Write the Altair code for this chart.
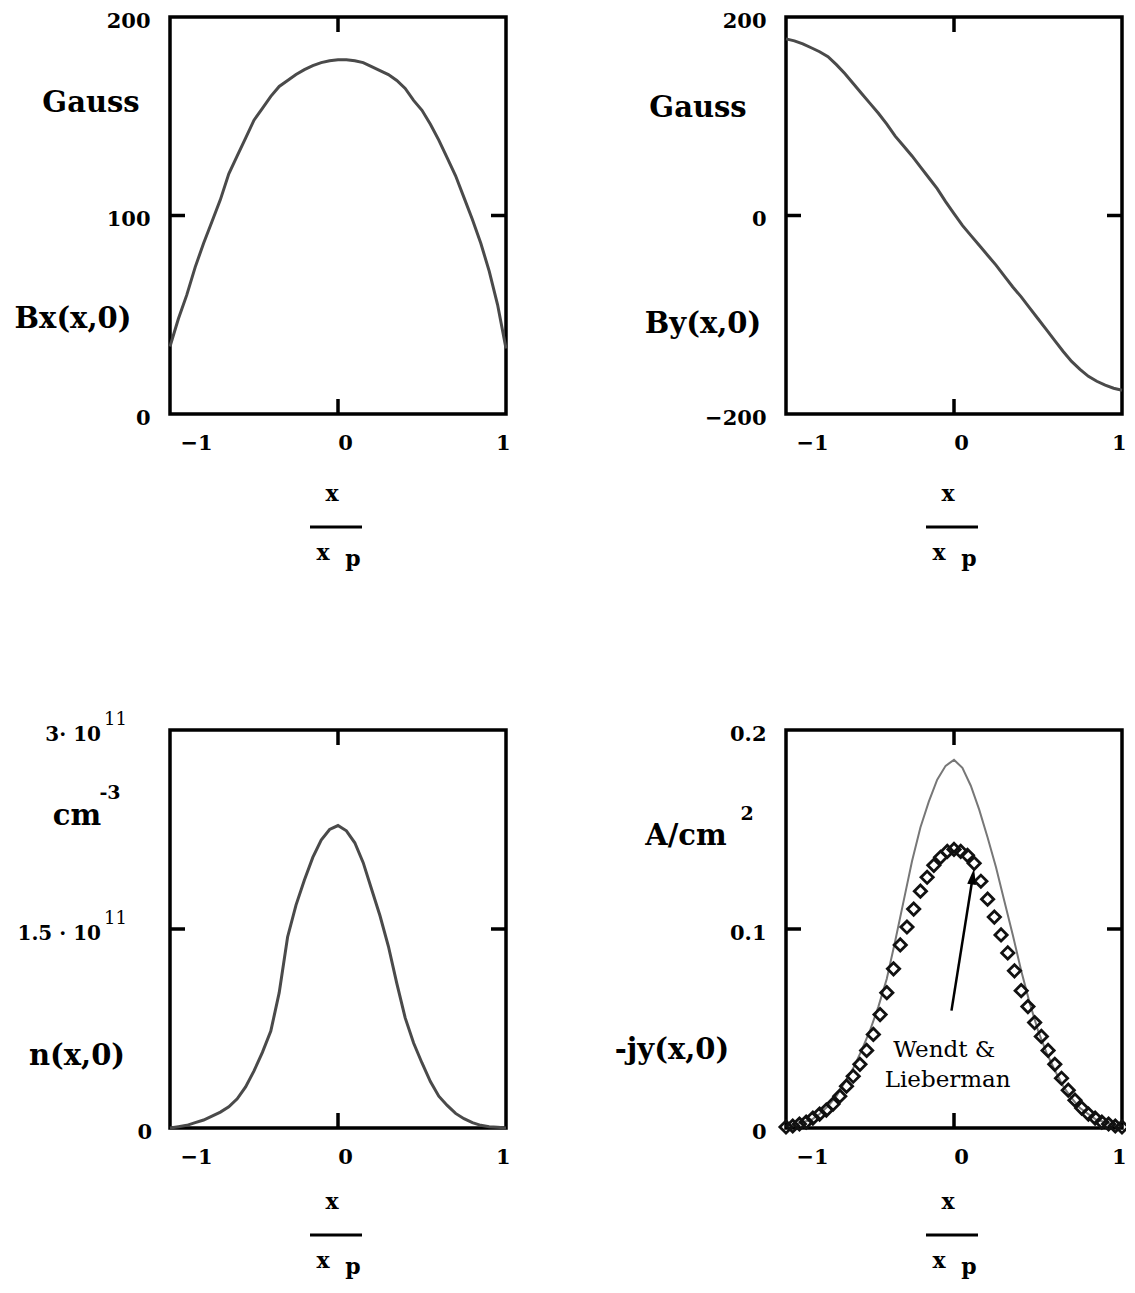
import altair as alt
import pandas as pd

# ---------------- data ----------------
x_grid = [-1.0, -0.95, -0.9, -0.85, -0.8, -0.75, -0.7, -0.65, -0.6, -0.55, -0.5,
          -0.45, -0.4, -0.35, -0.3, -0.25, -0.2, -0.15, -0.1, -0.05, 0.0,
          0.05, 0.1, 0.15, 0.2, 0.25, 0.3, 0.35, 0.4, 0.45, 0.5,
          0.55, 0.6, 0.65, 0.7, 0.75, 0.8, 0.85, 0.9, 0.95, 1.0]

# Bx(x,0) in Gauss
bx_vals = [34, 48, 60, 74, 86, 97, 108, 121, 130, 139, 148,
           154, 160, 165, 168, 171, 173.5, 175.5, 177, 178, 178.5,
           178.5, 178, 177, 175, 173, 171, 168, 164, 158, 153,
           146, 138, 129, 120, 109, 98, 86, 72, 55, 33]

# By(x,0) in Gauss
by_vals = [178, 176, 173, 169, 165, 160, 152, 143, 133, 123, 113,
           103, 92, 80, 70, 60, 49, 38, 27, 14, 2,
           -10, -20, -30, -40, -50, -61, -72, -82, -93, -104,
           -115, -126, -137, -147, -155, -162, -167, -171, -174, -176]

# n(x,0) in units of 1e11 cm^-3
N_UNIT = 1e11
n_vals = [0.0, 0.01, 0.02, 0.04, 0.06, 0.09, 0.12, 0.16, 0.22, 0.31, 0.43,
          0.57, 0.73, 1.02, 1.44, 1.68, 1.87, 2.04, 2.17, 2.25, 2.28,
          2.24, 2.15, 2.00, 1.80, 1.60, 1.37, 1.09, 0.83, 0.64, 0.49,
          0.35, 0.24, 0.17, 0.11, 0.07, 0.04, 0.02, 0.01, 0.005, 0.0]

# -jy(x,0) in A/cm^2 (solid line)
jy_vals = [0.001, 0.0015, 0.003, 0.004, 0.007, 0.011, 0.016, 0.023, 0.030, 0.039, 0.049,
           0.061, 0.075, 0.094, 0.114, 0.134, 0.151, 0.164, 0.175, 0.182, 0.185,
           0.181, 0.172, 0.160, 0.146, 0.131, 0.114, 0.097, 0.079, 0.063, 0.049,
           0.038, 0.029, 0.021, 0.015, 0.010, 0.007, 0.004, 0.003, 0.0015, 0.001]

# Wendt & Lieberman (diamonds)
wl_x = [-1.0, -0.96, -0.92, -0.88, -0.84, -0.8, -0.76, -0.72, -0.68, -0.64,
        -0.6, -0.56, -0.52, -0.48, -0.44, -0.4, -0.36, -0.32, -0.28, -0.24,
        -0.2, -0.16, -0.12, -0.08, -0.04, 0.0, 0.04, 0.08, 0.12, 0.16,
        0.2, 0.24, 0.28, 0.32, 0.36, 0.4, 0.44, 0.48, 0.52, 0.56,
        0.6, 0.64, 0.68, 0.72, 0.76, 0.8, 0.84, 0.88, 0.92, 0.96, 1.0]
wl_y = [0.0005, 0.001, 0.002, 0.003, 0.005, 0.007, 0.009, 0.012, 0.016, 0.021,
        0.026, 0.032, 0.039, 0.047, 0.057, 0.068, 0.080, 0.092, 0.101, 0.110,
        0.119, 0.126, 0.132, 0.136, 0.139, 0.140, 0.139, 0.137, 0.133, 0.124,
        0.115, 0.106, 0.097, 0.088, 0.079, 0.069, 0.061, 0.053, 0.046, 0.039,
        0.032, 0.025, 0.019, 0.014, 0.010, 0.007, 0.005, 0.003, 0.002, 0.001, 0.0005]

# arrow of the annotation (data units of panel 4)
arrow_tail = (-0.015, 0.059)
arrow_head = (0.112, 0.1264)

x_ticks = [-1, 0, 1]
bx_ticks = [0, 100, 200]
by_ticks = [-200, 0, 200]
n_ticks = [0, 1.5e11, 3e11]
n_tick_text = ["0", "1.5 · 10", "3· 10"]
jy_ticks = [0, 0.1, 0.2]

SERIF = "DejaVu Serif"
LW, RW = 336, 336
H1, H2 = 397, 398
TICK = 15


def X():
    return alt.X("x:Q", title=None,
                 scale=alt.Scale(domain=[-1, 1], nice=False, zero=False),
                 axis=alt.Axis(values=x_ticks, format="~g", labelFlush=True,
                               labelFlushOffset=-3, labelOverlap=False,
                               labelOffset=7, labelPadding=18))


def Y(dom, ticks, fmt="d", labels=True):
    return alt.Y("y:Q", title=None,
                 scale=alt.Scale(domain=list(dom), nice=False, zero=False),
                 axis=alt.Axis(values=ticks, format=fmt, labels=labels,
                               labelOverlap=False, labelOffset=4, labelPadding=20))


def txt(t, px, py, size=29, weight="bold", align="center"):
    return alt.Chart(alt.Data(values=[{"t": t}])).mark_text(
        font=SERIF, fontSize=size, fontWeight=weight, align=align,
        baseline="middle", color="black").encode(
        text="t:N", x=alt.value(px), y=alt.value(py))


def frame_ticks(W, H, xe, ye, ymid):
    top = alt.Chart(alt.Data(values=[{"x": 0}])).mark_rule(
        color="black", strokeWidth=3.5).encode(x=xe, y=alt.value(0), y2=alt.value(TICK))
    bot = alt.Chart(alt.Data(values=[{"x": 0}])).mark_rule(
        color="black", strokeWidth=3.5).encode(x=xe, y=alt.value(H), y2=alt.value(H - TICK))
    lef = alt.Chart(alt.Data(values=[{"y": ymid}])).mark_rule(
        color="black", strokeWidth=3.5).encode(y=ye, x=alt.value(0), x2=alt.value(TICK))
    rig = alt.Chart(alt.Data(values=[{"y": ymid}])).mark_rule(
        color="black", strokeWidth=3.5).encode(y=ye, x=alt.value(W), x2=alt.value(W - TICK))
    return [top, bot, lef, rig]


def fraction(top):
    # top: pixel offset of the upper "x" below the plot's top edge
    rule = alt.Chart(alt.Data(values=[{"a": 0}])).mark_rule(
        color="black", strokeWidth=3).encode(
        x=alt.value(140), x2=alt.value(192), y=alt.value(top + 33))
    return [txt("x", 162, top, size=22), rule, txt("x", 153, top + 59, size=22),
            txt("p", 183, top + 65, size=22)]


def curve(xs, ys, xe, ye, color="#4a4a4a", width=3):
    df = pd.DataFrame({"x": xs, "y": ys})
    return alt.Chart(df).mark_line(color=color, strokeWidth=width).encode(x=xe, y=ye)


# ---------- panel 1: Bx ----------
xe1 = X()
ye1 = Y((0, 200), bx_ticks)
p1 = alt.layer(
    curve(x_grid, bx_vals, xe1, ye1),
    *frame_ticks(LW, H1, xe1, ye1, 100),
    txt("Gauss", -79, 86), txt("Bx(x,0)", -97, 302),
    *fraction(477),
).properties(width=LW, height=H1)

# ---------- panel 2: By ----------
xe2 = X()
ye2 = Y((-200, 200), by_ticks)
p2 = alt.layer(
    curve(x_grid, by_vals, xe2, ye2),
    *frame_ticks(RW, H1, xe2, ye2, 0),
    txt("Gauss", -88, 91), txt("By(x,0)", -83, 307),
    *fraction(477),
).properties(width=RW, height=H1)

# ---------- panel 3: n ----------
xe3 = X()
ye3 = Y((0, 3e11), n_ticks, labels=False)
n_df_labels = pd.DataFrame({"y": n_ticks, "t": n_tick_text})
n_main = alt.Chart(n_df_labels.iloc[1:]).mark_text(
    font=SERIF, fontSize=20, fontWeight="bold", align="right", baseline="middle",
    dy=5, color="black").encode(y=ye3, x=alt.value(-69), text="t:N")
n_zero = alt.Chart(n_df_labels.iloc[:1]).mark_text(
    font=SERIF, fontSize=21, fontWeight="bold", align="right", baseline="middle",
    dy=5, color="black").encode(y=ye3, x=alt.value(-18), text="t:N")
n_sup = alt.Chart(pd.DataFrame({"y": n_ticks[1:], "t": ["11", "11"]})).mark_text(
    font=SERIF, fontSize=18, fontWeight="normal", align="left", baseline="middle",
    dy=-10, color="black").encode(y=ye3, x=alt.value(-66), text="t:N")
p3 = alt.layer(
    curve(x_grid, [v * N_UNIT for v in n_vals], xe3, ye3),
    *frame_ticks(LW, H2, xe3, ye3, 1.5e11),
    n_main, n_zero, n_sup,
    txt("cm", -93, 86), txt("-3", -60, 63, size=19),
    txt("n(x,0)", -93, 326),
    *fraction(472),
).properties(width=LW, height=H2)

# ---------- panel 4: jy ----------
xe4 = X()
ye4 = Y((0, 0.2), jy_ticks, fmt=".1~f")
wl = alt.Chart(pd.DataFrame({"x": wl_x, "y": wl_y})).mark_point(
    shape="diamond", size=150, filled=False, stroke="#111", strokeWidth=2.8,
    opacity=1).encode(x=xe4, y=ye4)
arrow_line = alt.Chart(alt.Data(values=[{"x": arrow_tail[0], "y": arrow_tail[1],
                                         "x2": arrow_head[0], "y2": arrow_head[1]}])).mark_rule(
    color="black", strokeWidth=2.5).encode(x=xe4, y=ye4, x2="x2:Q", y2="y2:Q")
arrow_tip = alt.Chart(alt.Data(values=[{"x": arrow_head[0], "y": arrow_head[1]}])).mark_point(
    shape="M0,-1L0.55,1L-0.55,1Z", size=256, filled=True, color="black", opacity=1,
    angle=9).encode(x=xe4, y=ye4)
ann = alt.Chart(alt.Data(values=[{"x": -0.058, "y": 0.039, "t": "Wendt &"},
                                 {"x": -0.038, "y": 0.0241, "t": "Lieberman"}])).mark_text(
    font=SERIF, fontSize=23, align="center", baseline="middle", color="black").encode(
    x=xe4, y=ye4, text="t:N")
p4 = alt.layer(
    curve(x_grid, jy_vals, xe4, ye4, color="#777777", width=2),
    wl, arrow_line, arrow_tip, ann,
    *frame_ticks(RW, H2, xe4, ye4, 0.1),
    txt("A/cm", -100, 106), txt("2", -39, 84, size=19),
    txt("-jy(x,0)", -114, 320),
    *fraction(472),
).properties(width=RW, height=H2)

chart = alt.concat(
    p1, p2, p3, p4, columns=2,
    spacing={"row": 316, "column": 280}, bounds="flush",
).properties(
    padding={"left": 4, "top": 0, "right": -10, "bottom": 0},
    background="white",
).configure_view(
    stroke="black", strokeWidth=3.5
).configure_axis(
    domain=False, ticks=False, grid=False,
    labelFont=SERIF, labelFontSize=21, labelFontWeight="bold", labelColor="black",
)

chart.save("out.html", embed_options={"renderer": "svg", "actions": False})
